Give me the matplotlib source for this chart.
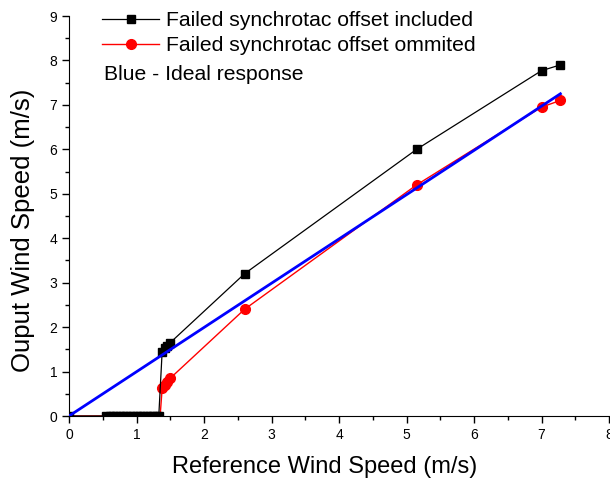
import matplotlib
matplotlib.use("Agg")
import matplotlib.pyplot as plt
from matplotlib.ticker import MultipleLocator

plt.rcParams['font.family'] = ['Liberation Sans', 'DejaVu Sans']

# Failed synchrotac offset included (black squares)
x_incl = [0.0, 0.55, 0.6, 0.65, 0.7, 0.75, 0.8, 0.85, 0.9, 0.95, 1.0, 1.05, 1.1, 1.15, 1.2, 1.25, 1.3, 1.33,
          1.38, 1.42, 1.45, 1.5, 2.6, 5.15, 7.0, 7.28]
y_incl = [0.0, 0.0, 0.0, 0.0, 0.0, 0.0, 0.0, 0.0, 0.0, 0.0, 0.0, 0.0, 0.0, 0.0, 0.0, 0.0, 0.0, 0.0,
          1.45, 1.52, 1.58, 1.65, 3.2, 6.0, 7.77, 7.9]

# Failed synchrotac offset ommited (red circles)
x_omit = [0.0, 1.35, 1.38, 1.42, 1.45, 1.5, 2.6, 5.15, 7.0, 7.28]
y_omit = [0.0, 0.0, 0.62, 0.7, 0.76, 0.85, 2.4, 5.2, 6.95, 7.1]
omit_marker_idx = [2, 3, 4, 5, 6, 7, 8, 9]

# Ideal response (blue)
x_ideal = [0.0, 7.28]
y_ideal = [0.0, 7.25]

fig = plt.figure(figsize=(6.10, 4.84), dpi=100)
ax = fig.add_axes([69/610, 1-416/484, 540/610, 400/484])

ax.plot(x_omit, y_omit, color='red', lw=1.0, marker='o', ms=7, markevery=omit_marker_idx,
        label='Failed synchrotac offset ommited', zorder=3)
ax.plot(x_incl, y_incl, color='black', lw=0.9, marker='s', ms=6,
        label='Failed synchrotac offset included', zorder=4)
ax.plot(x_ideal, y_ideal, color='#0000ff', lw=2.0, zorder=5)

ax.set_xlim(0, 8)
ax.set_ylim(0, 9)
ax.xaxis.set_major_locator(MultipleLocator(1))
ax.xaxis.set_minor_locator(MultipleLocator(0.5))
ax.yaxis.set_major_locator(MultipleLocator(1))
ax.yaxis.set_minor_locator(MultipleLocator(0.5))
for s in ['top', 'right']:
    ax.spines[s].set_visible(False)
ax.tick_params(which='major', direction='out', length=5, width=1, labelsize=10)
ax.tick_params(which='minor', direction='out', length=3, width=1)

fig.text(325/610, 1-467/484, 'Reference Wind Speed (m/s)', fontsize=17,
         ha='center', va='center')
fig.text(23/610, 1-230/484, 'Ouput Wind Speed (m/s)', fontsize=18.5,
         ha='center', va='center', rotation=90)

h, l = ax.get_legend_handles_labels()
leg = fig.legend([h[1], h[0]], [l[1], l[0]], loc='upper left',
                 bbox_to_anchor=(102/610, 1-11/484), frameon=False, fontsize=15.2,
                 handlelength=2.7, handletextpad=0.35, labelspacing=0.3,
                 borderpad=0, borderaxespad=0)
fig.text(104/610, 1-75/484, 'Blue - Ideal response', fontsize=15.2, va='center', ha='left')

fig.savefig('out.png', dpi=100)
